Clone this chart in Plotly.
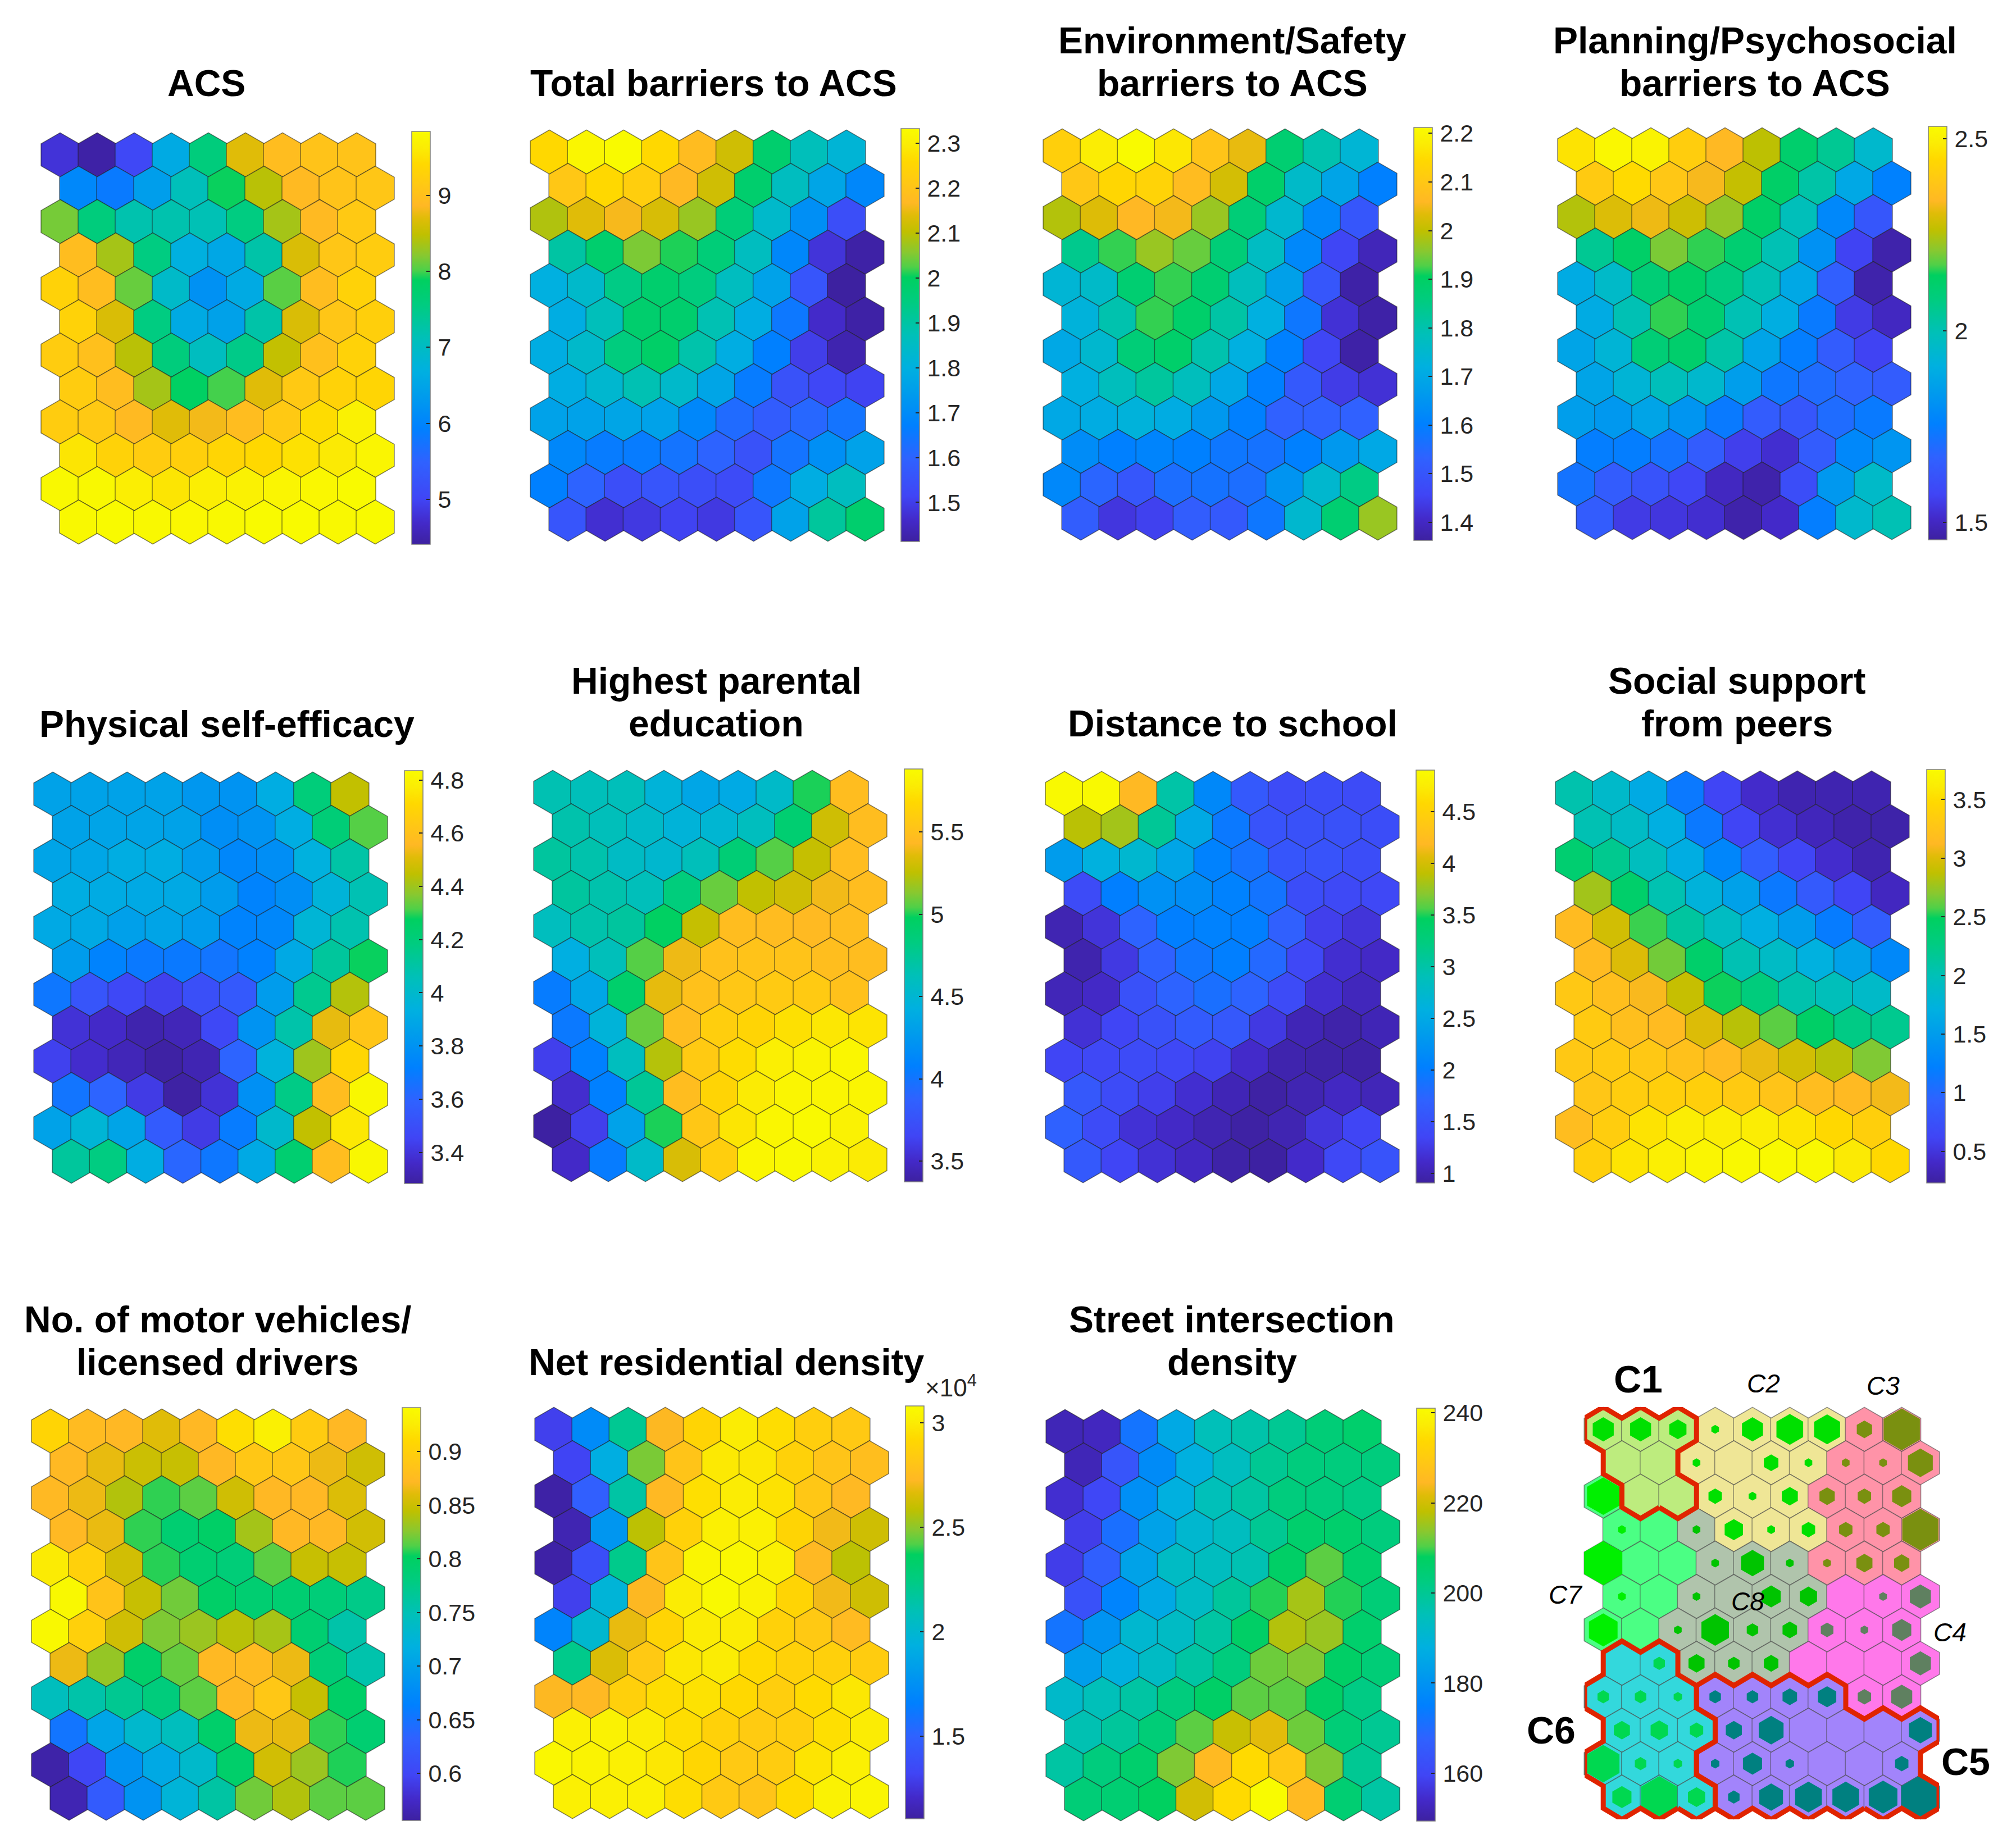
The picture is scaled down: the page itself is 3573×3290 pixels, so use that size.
"""SOM component planes (9 x 12 hexagonal grid) and the cluster map."""
import plotly.graph_objects as go

FIG_W, FIG_H = 3573, 3290
FONT = "Liberation Sans"
INK = "#262626"
HEX_SIZE = 78.5

# parula-like colour scale as it looks in the picture
PARULA = [
    [0.00, "#3d21a0"], [0.05, "#4329c8"], [0.11, "#4045f5"], [0.20, "#2f62ff"],
    [0.28, "#0080ff"], [0.36, "#009cec"], [0.42, "#00b0e0"], [0.50, "#00c0b8"],
    [0.58, "#00cc80"], [0.64, "#00d060"], [0.665, "#50d048"], [0.70, "#88c830"],
    [0.75, "#c0c000"], [0.79, "#e0bc08"], [0.82, "#ffb824"], [0.87, "#ffc814"],
    [0.92, "#ffd800"], [0.96, "#fbec04"], [1.00, "#f9fb00"],
]

# values per map, top row first; even rows are shifted half a cell to the right
ACS = [
    [4.8, 4.45, 5.05, 6.6, 7.6, 8.7, 8.95, 9.05, 9.05],
    [6.05, 5.85, 6.4, 7.1, 7.9, 8.45, 8.9, 9.05, 9.1],
    [8.15, 7.6, 7.2, 7.2, 7.15, 7.55, 8.35, 8.9, 9.15],
    [8.95, 8.35, 7.55, 6.7, 6.55, 7.25, 8.65, 9.1, 9.2],
    [9.3, 8.95, 8.1, 6.95, 6.2, 6.6, 8.05, 8.95, 9.3],
    [9.3, 8.65, 7.55, 6.6, 6.45, 7.25, 8.65, 9.1, 9.25],
    [9.2, 9.0, 8.45, 7.6, 7.05, 7.5, 8.5, 9.0, 9.3],
    [9.2, 8.95, 8.35, 7.85, 8.0, 8.7, 9.15, 9.3, 9.35],
    [9.2, 9.15, 8.9, 8.7, 8.8, 8.95, 9.15, 9.45, 9.7],
    [9.55, 9.3, 9.2, 9.25, 9.35, 9.4, 9.5, 9.6, 9.75],
    [9.8, 9.8, 9.65, 9.55, 9.65, 9.7, 9.75, 9.78, 9.82],
    [9.8, 9.82, 9.8, 9.78, 9.8, 9.82, 9.82, 9.8, 9.82],
]
TOTAL_BARRIERS = [
    [2.26, 2.32, 2.33, 2.26, 2.18, 2.12, 1.98, 1.87, 1.82],
    [2.21, 2.26, 2.23, 2.17, 2.12, 1.98, 1.86, 1.77, 1.69],
    [2.09, 2.14, 2.16, 2.13, 2.07, 1.96, 1.84, 1.71, 1.54],
    [1.9, 1.98, 2.05, 2.01, 1.96, 1.86, 1.69, 1.48, 1.42],
    [1.8, 1.84, 1.94, 1.98, 1.95, 1.86, 1.76, 1.56, 1.41],
    [1.79, 1.87, 1.98, 1.98, 1.88, 1.79, 1.65, 1.46, 1.42],
    [1.79, 1.84, 1.95, 1.99, 1.89, 1.79, 1.67, 1.5, 1.43],
    [1.79, 1.83, 1.88, 1.84, 1.77, 1.66, 1.55, 1.52, 1.51],
    [1.76, 1.76, 1.77, 1.76, 1.69, 1.62, 1.58, 1.61, 1.64],
    [1.69, 1.66, 1.66, 1.64, 1.6, 1.55, 1.64, 1.71, 1.76],
    [1.67, 1.6, 1.54, 1.56, 1.54, 1.53, 1.65, 1.79, 1.86],
    [1.56, 1.47, 1.49, 1.51, 1.49, 1.56, 1.76, 1.91, 1.98],
]
ENV_SAFETY = [
    [2.12, 2.18, 2.21, 2.17, 2.09, 2.04, 1.88, 1.8, 1.74],
    [2.1, 2.14, 2.13, 2.07, 2.02, 1.89, 1.76, 1.69, 1.6],
    [1.99, 2.03, 2.06, 2.05, 1.97, 1.87, 1.75, 1.62, 1.5],
    [1.84, 1.92, 1.97, 1.94, 1.87, 1.77, 1.62, 1.46, 1.39],
    [1.74, 1.76, 1.88, 1.92, 1.88, 1.78, 1.68, 1.5, 1.37],
    [1.73, 1.8, 1.92, 1.89, 1.81, 1.72, 1.58, 1.42, 1.37],
    [1.7, 1.75, 1.87, 1.89, 1.8, 1.72, 1.6, 1.46, 1.37],
    [1.72, 1.78, 1.82, 1.78, 1.7, 1.6, 1.51, 1.44, 1.42],
    [1.7, 1.71, 1.73, 1.71, 1.66, 1.6, 1.53, 1.53, 1.53],
    [1.63, 1.6, 1.61, 1.6, 1.58, 1.57, 1.6, 1.66, 1.7],
    [1.62, 1.54, 1.5, 1.56, 1.57, 1.56, 1.65, 1.75, 1.85],
    [1.52, 1.43, 1.45, 1.52, 1.51, 1.58, 1.75, 1.88, 1.97],
]
PLANNING = [
    [2.47, 2.52, 2.51, 2.41, 2.34, 2.26, 2.12, 2.05, 1.95],
    [2.4, 2.45, 2.39, 2.33, 2.27, 2.13, 2.02, 1.88, 1.76],
    [2.25, 2.3, 2.32, 2.28, 2.22, 2.13, 1.99, 1.78, 1.63],
    [2.05, 2.13, 2.2, 2.16, 2.11, 2.0, 1.81, 1.57, 1.47],
    [1.89, 1.96, 2.1, 2.13, 2.08, 2.0, 1.88, 1.66, 1.47],
    [1.89, 2.0, 2.16, 2.11, 2.0, 1.9, 1.74, 1.55, 1.5],
    [1.87, 1.93, 2.1, 2.12, 2.02, 1.87, 1.75, 1.65, 1.57],
    [1.87, 1.93, 1.99, 1.95, 1.85, 1.73, 1.7, 1.67, 1.65],
    [1.85, 1.83, 1.87, 1.82, 1.74, 1.65, 1.63, 1.7, 1.74],
    [1.75, 1.75, 1.72, 1.65, 1.56, 1.52, 1.65, 1.78, 1.82],
    [1.72, 1.65, 1.62, 1.58, 1.5, 1.47, 1.6, 1.83, 1.96],
    [1.65, 1.55, 1.54, 1.52, 1.47, 1.51, 1.75, 1.95, 2.0],
]
SELF_EFFICACY = [
    [3.87, 3.87, 3.87, 3.87, 3.82, 3.8, 3.92, 4.2, 4.45],
    [3.87, 3.88, 3.88, 3.87, 3.78, 3.8, 3.92, 4.21, 4.32],
    [3.88, 3.89, 3.92, 3.92, 3.84, 3.75, 3.78, 3.94, 4.1],
    [3.92, 3.91, 3.9, 3.9, 3.84, 3.73, 3.78, 3.96, 4.07],
    [3.9, 3.9, 3.86, 3.88, 3.84, 3.73, 3.75, 3.97, 4.08],
    [3.84, 3.73, 3.69, 3.69, 3.67, 3.72, 3.9, 4.12, 4.28],
    [3.68, 3.53, 3.47, 3.44, 3.5, 3.55, 3.84, 4.15, 4.43],
    [3.39, 3.36, 3.31, 3.33, 3.47, 3.8, 4.09, 4.52, 4.62],
    [3.44, 3.37, 3.33, 3.29, 3.32, 3.6, 3.95, 4.4, 4.7],
    [3.67, 3.6, 3.42, 3.29, 3.39, 3.79, 4.17, 4.58, 4.82],
    [3.87, 3.97, 3.88, 3.56, 3.42, 3.7, 4.0, 4.45, 4.76],
    [4.12, 4.18, 3.92, 3.61, 3.68, 3.9, 4.23, 4.58, 4.82],
]
PARENT_EDU = [
    [4.65, 4.62, 4.62, 4.47, 4.35, 4.38, 4.55, 5.0, 5.47],
    [4.67, 4.62, 4.55, 4.47, 4.5, 4.6, 4.9, 5.3, 5.47],
    [4.72, 4.67, 4.57, 4.52, 4.62, 4.88, 5.05, 5.27, 5.47],
    [4.72, 4.67, 4.62, 4.85, 5.08, 5.26, 5.3, 5.4, 5.47],
    [4.6, 4.67, 4.72, 4.97, 5.27, 5.47, 5.46, 5.45, 5.47],
    [4.42, 4.62, 5.05, 5.39, 5.5, 5.52, 5.52, 5.48, 5.47],
    [4.05, 4.35, 4.93, 5.37, 5.5, 5.55, 5.57, 5.57, 5.5],
    [4.03, 4.47, 5.08, 5.47, 5.6, 5.65, 5.72, 5.76, 5.74],
    [3.62, 4.08, 4.6, 5.23, 5.57, 5.7, 5.8, 5.83, 5.85],
    [3.52, 4.08, 4.75, 5.47, 5.65, 5.78, 5.84, 5.84, 5.84],
    [3.38, 3.62, 4.32, 5.0, 5.55, 5.75, 5.85, 5.87, 5.82],
    [3.5, 4.05, 4.55, 5.33, 5.6, 5.85, 5.87, 5.82, 5.78],
]
DISTANCE = [
    [4.88, 4.88, 4.2, 3.0, 2.12, 1.6, 1.42, 1.45, 1.42],
    [3.88, 3.8, 3.1, 2.5, 1.95, 1.52, 1.5, 1.5, 1.45],
    [2.35, 2.6, 2.72, 2.45, 2.05, 1.88, 1.55, 1.52, 1.45],
    [1.42, 2.02, 2.22, 2.18, 2.05, 1.9, 1.45, 1.4, 1.38],
    [1.0, 1.2, 1.72, 2.02, 2.05, 2.02, 1.68, 1.3, 1.2],
    [0.98, 1.25, 1.7, 1.92, 2.02, 1.78, 1.38, 1.15, 1.1],
    [1.03, 1.1, 1.5, 1.72, 1.85, 1.72, 1.42, 1.15, 1.05],
    [1.18, 1.35, 1.5, 1.62, 1.58, 1.25, 1.02, 0.96, 1.02],
    [1.35, 1.38, 1.42, 1.38, 1.32, 1.12, 0.98, 0.95, 0.94],
    [1.58, 1.42, 1.3, 1.15, 1.02, 0.93, 1.0, 1.08, 1.03],
    [1.7, 1.42, 1.18, 1.1, 1.0, 0.93, 1.0, 1.22, 1.35],
    [1.6, 1.35, 1.18, 1.08, 0.95, 0.92, 1.12, 1.38, 1.52],
]
PEER_SUPPORT = [
    [2.05, 1.87, 1.65, 1.15, 0.62, 0.42, 0.3, 0.3, 0.3],
    [2.02, 1.9, 1.7, 1.15, 0.62, 0.45, 0.35, 0.28, 0.27],
    [2.38, 2.2, 1.95, 1.68, 1.28, 0.88, 0.62, 0.43, 0.3],
    [2.78, 2.42, 2.03, 1.75, 1.55, 1.15, 0.85, 0.62, 0.37],
    [3.15, 2.95, 2.55, 2.12, 1.92, 1.7, 1.5, 1.18, 0.88],
    [3.15, 3.0, 2.65, 2.42, 2.02, 1.9, 1.72, 1.55, 1.3],
    [3.3, 3.2, 3.1, 2.9, 2.5, 2.3, 2.05, 1.98, 1.88],
    [3.32, 3.2, 3.15, 3.0, 2.85, 2.6, 2.45, 2.25, 2.2],
    [3.3, 3.32, 3.3, 3.22, 3.15, 3.05, 2.95, 2.85, 2.68],
    [3.28, 3.35, 3.38, 3.38, 3.32, 3.25, 3.18, 3.14, 3.08],
    [3.18, 3.35, 3.55, 3.62, 3.62, 3.62, 3.56, 3.47, 3.38],
    [3.38, 3.56, 3.64, 3.7, 3.73, 3.74, 3.73, 3.6, 3.47],
]
MOTOR_VEHICLES = [
    [0.905, 0.875, 0.872, 0.86, 0.872, 0.915, 0.93, 0.895, 0.872],
    [0.873, 0.863, 0.85, 0.848, 0.872, 0.89, 0.888, 0.865, 0.852],
    [0.873, 0.865, 0.84, 0.808, 0.815, 0.852, 0.872, 0.872, 0.858],
    [0.873, 0.864, 0.808, 0.79, 0.798, 0.835, 0.872, 0.872, 0.853],
    [0.925, 0.9, 0.853, 0.807, 0.79, 0.785, 0.815, 0.848, 0.848],
    [0.938, 0.885, 0.848, 0.82, 0.797, 0.79, 0.79, 0.785, 0.775],
    [0.938, 0.9, 0.852, 0.823, 0.832, 0.842, 0.836, 0.79, 0.757],
    [0.865, 0.83, 0.795, 0.817, 0.873, 0.875, 0.865, 0.786, 0.755],
    [0.745, 0.757, 0.77, 0.782, 0.815, 0.873, 0.89, 0.848, 0.797],
    [0.652, 0.705, 0.733, 0.745, 0.795, 0.865, 0.863, 0.808, 0.79],
    [0.56, 0.6, 0.685, 0.71, 0.735, 0.795, 0.853, 0.832, 0.806],
    [0.565, 0.625, 0.685, 0.725, 0.76, 0.82, 0.84, 0.815, 0.815],
]
# in units of 10^4
RESIDENTIAL_DENSITY = [
    [1.3, 1.72, 2.2, 2.72, 2.9, 3.0, 2.94, 2.86, 2.83],
    [1.32, 1.92, 2.47, 2.8, 2.99, 2.98, 2.88, 2.8, 2.76],
    [1.12, 1.48, 2.15, 2.73, 2.95, 3.0, 2.96, 2.82, 2.73],
    [1.15, 1.78, 2.58, 2.88, 3.02, 3.02, 2.9, 2.7, 2.62],
    [1.12, 1.38, 2.22, 2.8, 3.05, 3.06, 3.02, 2.73, 2.58],
    [1.3, 1.97, 2.72, 3.0, 3.07, 3.03, 2.9, 2.7, 2.62],
    [1.68, 2.0, 2.68, 2.9, 3.0, 3.0, 2.88, 2.83, 2.74],
    [2.22, 2.65, 2.83, 2.98, 3.0, 2.93, 2.88, 2.87, 2.85],
    [2.72, 2.73, 2.87, 2.94, 2.96, 2.92, 2.86, 2.93, 2.98],
    [3.02, 3.03, 3.0, 2.94, 2.88, 2.84, 2.86, 2.95, 3.0],
    [3.06, 3.04, 3.02, 2.98, 2.91, 2.83, 2.85, 2.97, 3.02],
    [3.02, 3.02, 3.02, 2.94, 2.83, 2.8, 2.93, 3.03, 3.05],
]
STREET_DENSITY = [
    [152, 153, 172, 186, 195, 197, 200, 204, 206],
    [152, 164, 178, 188, 194, 200, 203, 203, 203],
    [155, 160, 179, 188, 195, 198, 203, 203, 202],
    [158, 171, 184, 191, 194, 200, 206, 206, 203],
    [158, 167, 184, 193, 194, 196, 207, 211, 206],
    [163, 176, 186, 193, 199, 209, 216, 209, 204],
    [172, 180, 191, 193, 198, 207, 217, 215, 206],
    [183, 188, 193, 198, 203, 212, 213, 207, 204],
    [192, 195, 198, 203, 207, 211, 211, 207, 202],
    [196, 199, 204, 211, 219, 222, 212, 204, 200],
    [198, 203, 206, 213, 225, 234, 229, 213, 200],
    [204, 205, 208, 220, 234, 241, 225, 205, 198],
]

MAPS = [ACS, TOTAL_BARRIERS, ENV_SAFETY, PLANNING, SELF_EFFICACY, PARENT_EDU,
        DISTANCE, PEER_SUPPORT, MOTOR_VEHICLES, RESIDENTIAL_DENSITY, STREET_DENSITY]
TITLES = [
    ["ACS"], ["Total barriers to ACS"], ["Environment/Safety", "barriers to ACS"],
    ["Planning/Psychosocial", "barriers to ACS"], ["Physical self-efficacy"],
    ["Highest parental", "education"], ["Distance to school"],
    ["Social support", "from peers"], ["No. of motor vehicles/", "licensed drivers"],
    ["Net residential density"], ["Street intersection", "density"],
]
COLOR_RANGES = [
    (4.41, 9.84), (1.413, 2.333), (1.363, 2.212), (1.455, 2.532), (3.283, 4.835),
    (3.374, 5.883), (0.91, 4.9), (0.23, 3.756), (0.556, 0.941), (1.105, 3.08), (149.4, 241),
]
TICKS = [
    [5, 6, 7, 8, 9],
    [1.5, 1.6, 1.7, 1.8, 1.9, 2, 2.1, 2.2, 2.3],
    [1.4, 1.5, 1.6, 1.7, 1.8, 1.9, 2, 2.1, 2.2],
    [1.5, 2, 2.5],
    [3.4, 3.6, 3.8, 4, 4.2, 4.4, 4.6, 4.8],
    [3.5, 4, 4.5, 5, 5.5],
    [1, 1.5, 2, 2.5, 3, 3.5, 4, 4.5],
    [0.5, 1, 1.5, 2, 2.5, 3, 3.5],
    [0.6, 0.65, 0.7, 0.75, 0.8, 0.85, 0.9],
    [1.5, 2, 2.5, 3],
    [160, 180, 200, 220, 240],
]

# cluster map: cluster number and size of the inner hexagon per cell
CLUSTERS = [
    [1, 1, 1, 2, 2, 2, 2, 3, 3],
    [1, 1, 2, 2, 2, 2, 3, 3, 3],
    [7, 1, 1, 2, 2, 2, 3, 3, 3],
    [7, 7, 8, 2, 2, 2, 3, 3, 3],
    [7, 7, 7, 8, 8, 8, 3, 3, 3],
    [7, 7, 8, 8, 8, 8, 4, 4, 4],
    [7, 7, 8, 8, 8, 8, 4, 4, 4],
    [6, 6, 8, 8, 8, 4, 4, 4, 4],
    [6, 6, 6, 5, 5, 5, 5, 4, 4],
    [6, 6, 6, 5, 5, 5, 5, 5, 5],
    [6, 6, 6, 5, 5, 5, 5, 5, 5],
    [6, 6, 6, 5, 5, 5, 5, 5, 5],
]
HIT_SIZES = [
    [0.55, 0.55, 0.45, 0.2, 0.55, 0.7, 0.68, 0.4, 0.95],
    [0, 0, 0.2, 0, 0.38, 0.2, 0.2, 0.2, 0.65],
    [0.85, 0, 0, 0.35, 0.2, 0.42, 0.4, 0.35, 0.5],
    [0.2, 0, 0.2, 0.48, 0.2, 0.35, 0.35, 0.35, 0.95],
    [1.0, 0, 0, 0.2, 0.6, 0.2, 0.2, 0.42, 0.4],
    [0.2, 0, 0.2, 0, 0.5, 0.45, 0, 0.2, 0.55],
    [0.75, 0, 0.2, 0.72, 0.3, 0.38, 0.33, 0.2, 0.5],
    [0, 0.3, 0.42, 0.3, 0.38, 0, 0, 0, 0.55],
    [0.3, 0.3, 0.22, 0.3, 0.3, 0.38, 0.48, 0.35, 0.55],
    [0.42, 0.45, 0.35, 0.42, 0.65, 0, 0, 0, 0.6],
    [0.85, 0.3, 0.22, 0.22, 0.5, 0.22, 0, 0, 0.35],
    [0.5, 0.95, 0.45, 0.3, 0.62, 0.7, 0.7, 0.75, 1.0],
]
CLUSTER_FILL = {1: "#bdec7e", 2: "#efe696", 3: "#ff93a8", 4: "#ff78ea",
                5: "#a284fb", 6: "#33d8dc", 7: "#4bff84", 8: "#b0c4ac"}
CLUSTER_HIT = {1: "#00e000", 2: "#00e000", 3: "#7a9010", 4: "#5f8060",
               5: "#008080", 6: "#00d850", 7: "#00f000", 8: "#00c400"}
OUTLINED = [1, 5, 6]
CLUSTER_LABELS = [
    ("<b>C1</b>", 2916, 2480, 68), ("<i>C2</i>", 3139, 2480, 46), ("<i>C3</i>", 3352, 2484, 46),
    ("<i>C7</i>", 2787, 2856, 46), ("<i>C8</i>", 3111, 2868, 46), ("<i>C4</i>", 3471, 2923, 46),
    ("<b>C6</b>", 2761, 3105, 68), ("<b>C5</b>", 3499, 3161, 68),
]

# pixel boxes of the hex grids: left, right, top, bottom
GRID_BOXES = [
    (74, 701, 236, 969), (945, 1573, 231, 964), (1858, 2486, 229, 962), (2774, 3401, 227, 961),
    (61, 689, 1374, 2107), (951, 1578, 1371, 2104), (1862, 2490, 1373, 2106), (2770, 3398, 1372, 2106),
    (57, 684, 2508, 3241), (953, 1581, 2505, 3238), (1863, 2491, 2509, 3242), (2821, 3452, 2505, 3239),
]
# colour bars: left, top, bottom
BAR_BOXES = [
    (733, 234, 969), (1604, 229, 964), (2517, 227, 962), (3433, 225, 961),
    (720, 1372, 2107), (1610, 1369, 2104), (2521, 1371, 2106), (3430, 1370, 2106),
    (716, 2506, 3241), (1612, 2503, 3238), (2522, 2507, 3242),
]
# title centre and the baseline of its last line
TITLE_POS = [
    (367, 172), (1270, 172), (2194, 172), (3124, 172), (404, 1313), (1275, 1312),
    (2194, 1312), (3092, 1312), (387, 2449), (1293, 2449), (2193, 2449),
]
TITLE_SIZE = 66
TITLE_LEAD = 76


def hex_xy():
    xs, ys = [], []
    for r in range(12):
        for c in range(9):
            xs.append(c + 0.5 * (r % 2))
            ys.append(r)
    return xs, ys


def flat(rows):
    return [v for row in rows for v in row]


def outline(cluster):
    """Closed outline of one cluster, walked along the cell edges."""
    xs, ys = hex_xy()
    cells = {(x, y) for x, y, k in zip(xs, ys, flat(CLUSTERS)) if k == cluster}
    nxt = {}
    for x, y in cells:
        v = [(x, y - 2 / 3), (x + 0.5, y - 1 / 3), (x + 0.5, y + 1 / 3),
             (x, y + 2 / 3), (x - 0.5, y + 1 / 3), (x - 0.5, y - 1 / 3)]
        around = [(x + 0.5, y - 1), (x + 1, y), (x + 0.5, y + 1),
                  (x - 0.5, y + 1), (x - 1, y), (x - 0.5, y - 1)]
        for i, n in enumerate(around):
            if n not in cells:
                a, b = v[i], v[(i + 1) % 6]
                nxt[(round(a[0], 3), round(a[1], 3))] = (round(b[0], 3), round(b[1], 3))
    start = next(iter(nxt))
    path = [start]
    while True:
        p = nxt[path[-1]]
        path.append(p)
        if p == start:
            break
    return [p[0] for p in path], [p[1] for p in path]


def baseline_y(px, size):
    # annotation boxes sit on their descender, not on the baseline
    return 1 - (px + 0.212 * size) / FIG_H


def text_note(text, x_px, base_px, size, color="black", anchor="center"):
    return dict(text=text, x=x_px / FIG_W, y=baseline_y(base_px, size), xref="paper", yref="paper",
                xanchor=anchor, yanchor="bottom", showarrow=False, borderpad=0,
                font=dict(family=FONT, size=size, color=color))


def add_axes(layout, n, box):
    left, right, top, bottom = box
    layout[f"xaxis{n}"] = dict(domain=[left / FIG_W, right / FIG_W], range=[-0.5, 9],
                               visible=False, anchor=f"y{n}")
    layout[f"yaxis{n}"] = dict(domain=[1 - bottom / FIG_H, 1 - top / FIG_H], range=[35 / 3, -2 / 3],
                               visible=False, anchor=f"x{n}")


fig = go.Figure()
layout = {}
notes = []
xs, ys = hex_xy()

for i, rows in enumerate(MAPS):
    n = i + 1
    add_axes(layout, n, GRID_BOXES[i])
    lo, hi = COLOR_RANGES[i]
    bar_left, bar_top, bar_bottom = BAR_BOXES[i]
    fig.add_trace(go.Scatter(
        x=xs, y=ys, xaxis=f"x{n}", yaxis=f"y{n}", mode="markers", cliponaxis=False, showlegend=False,
        marker=dict(
            symbol="hexagon", size=HEX_SIZE, color=flat(rows), colorscale=PARULA, cmin=lo, cmax=hi,
            line=dict(color="rgba(30,30,30,0.55)", width=1.5),
            colorbar=dict(
                x=bar_left / FIG_W, xanchor="left", xpad=0, ypad=0,
                y=1 - bar_top / FIG_H, yanchor="top",
                len=bar_bottom - bar_top, lenmode="pixels", thickness=33, thicknessmode="pixels",
                # hair space keeps the labels a little off the bar
                tickmode="array", tickvals=TICKS[i], ticktext=[f"\u200a{t:g}" for t in TICKS[i]],
                ticks="inside", ticklen=7, tickwidth=1.5, tickcolor=INK,
                outlinecolor="#808080", outlinewidth=1.5, borderwidth=0,
                tickfont=dict(family=FONT, size=43, color=INK),
            ),
        ),
    ))
    cx, base = TITLE_POS[i]
    lines = TITLES[i]
    for k, line in enumerate(lines):
        notes.append(text_note(f"<b>{line}</b>", cx, base - TITLE_LEAD * (len(lines) - 1 - k), TITLE_SIZE))

notes.append(text_note("×10<sup>4</sup>", 1646, 2487, 44, color=INK, anchor="left"))

# cluster map
add_axes(layout, 12, GRID_BOXES[11])
clusters = flat(CLUSTERS)
fig.add_trace(go.Scatter(
    x=xs, y=ys, xaxis="x12", yaxis="y12", mode="markers", cliponaxis=False, showlegend=False,
    marker=dict(symbol="hexagon", size=HEX_SIZE, color=[CLUSTER_FILL[k] for k in clusters],
                line=dict(color="rgba(70,70,70,0.6)", width=1.5)),
))
fig.add_trace(go.Scatter(
    x=xs, y=ys, xaxis="x12", yaxis="y12", mode="markers", cliponaxis=False, showlegend=False,
    marker=dict(symbol="hexagon", size=[s * HEX_SIZE for s in flat(HIT_SIZES)], opacity=1,
                color=[CLUSTER_HIT[k] for k in clusters], line=dict(width=0)),
))
for k in OUTLINED:
    ox, oy = outline(k)
    fig.add_trace(go.Scatter(
        x=ox, y=oy, xaxis="x12", yaxis="y12", mode="lines", cliponaxis=False, showlegend=False,
        line=dict(color="#e02400", width=9),
    ))
for text, x_px, base_px, size in CLUSTER_LABELS:
    notes.append(text_note(text, x_px, base_px, size))

fig.update_layout(
    width=FIG_W, height=FIG_H, margin=dict(l=0, r=0, t=0, b=0), showlegend=False,
    paper_bgcolor="white", plot_bgcolor="white", annotations=notes, **layout,
)
fig.write_html("out.html", config={"displayModeBar": False},
               post_script="document.body.style.margin = '0';")
